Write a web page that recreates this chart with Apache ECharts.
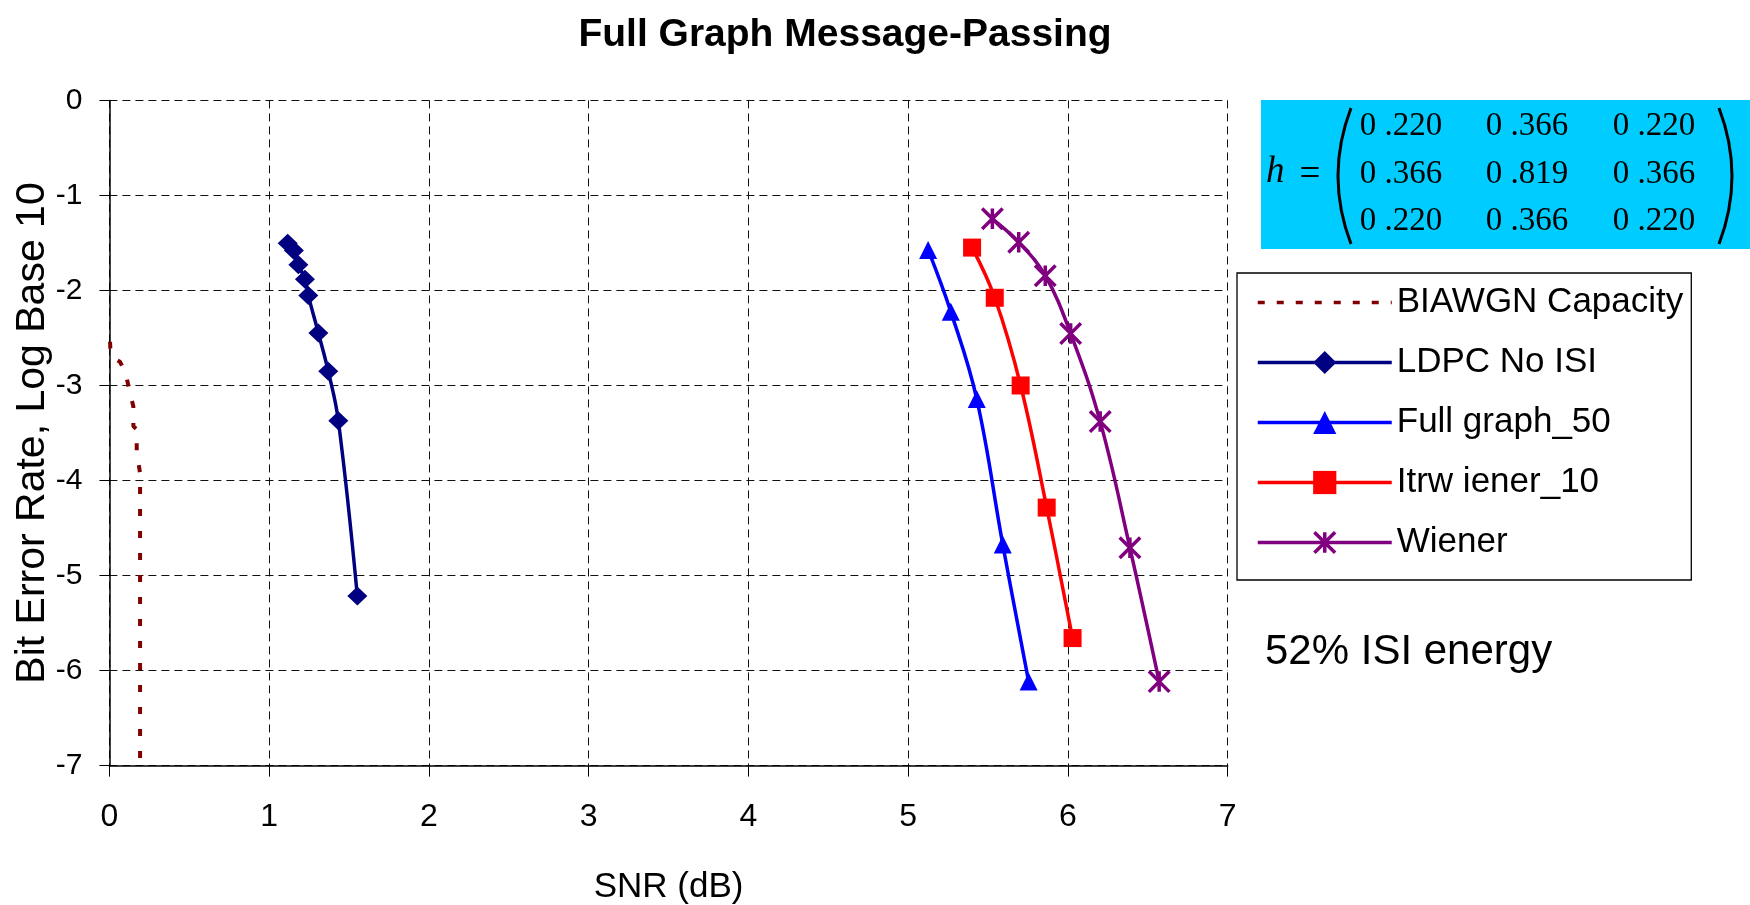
<!DOCTYPE html>
<html>
<head>
<meta charset="utf-8">
<title>Full Graph Message-Passing</title>
<script src="https://cdn.jsdelivr.net/npm/echarts@6/dist/echarts.min.js"></script>
<style>
  html, body { margin: 0; padding: 0; background: #fff; }
  #chart { width: 1750px; height: 905px; }
</style>
</head>
<body>
<div id="chart"></div>
<script>
// Axis ticks (SNR in dB, log10 of bit error rate)
const snrTicks = [0, 1, 2, 3, 4, 5, 6, 7];
const berTicks = [0, -1, -2, -3, -4, -5, -6, -7];

// Series names as shown in the legend
const seriesNames = ['BIAWGN Capacity', 'LDPC No ISI', 'Full graph_50', 'Itrw iener_10', 'Wiener'];

// [SNR (dB), log10 BER]
const biawgnCapacity = [
  [0.004, -2.54], [0.006, -2.61], [0.035, -2.64], [0.045, -2.73], [0.066, -2.75],
  [0.087, -2.82], [0.108, -2.92], [0.129, -3.08], [0.150, -3.22], [0.150, -3.43],
  [0.171, -3.46], [0.171, -3.73], [0.181, -3.81], [0.192, -3.92], [0.192, -7.00]
];
const ldpcNoIsi = [
  [1.116, -1.502], [1.155, -1.580], [1.183, -1.730], [1.224, -1.881], [1.245, -2.052],
  [1.308, -2.448], [1.370, -2.851], [1.433, -3.370], [1.552, -5.216]
];
const fullGraph50 = [
  [5.125, -1.574], [5.267, -2.225], [5.429, -3.141], [5.592, -4.673], [5.754, -6.116]
];
const itrWiener10 = [
  [5.400, -1.549], [5.542, -2.077], [5.704, -3.000], [5.867, -4.285], [6.029, -5.658]
];
const wiener = [
  [5.527, -1.246], [5.692, -1.493], [5.858, -1.845], [6.017, -2.454],
  [6.202, -3.380], [6.388, -4.708], [6.571, -6.116]
];

// Channel response matrix printed in the inset
const hMatrix = [
  ['0 .220', '0 .366', '0 .220'],
  ['0 .366', '0 .819', '0 .366'],
  ['0 .220', '0 .366', '0 .220']
];
const isiNote = '52% ISI energy';

const SANS = '"Liberation Sans", Arial, Helvetica, sans-serif';
const SERIF = '"Liberation Serif", "Times New Roman", serif';

// six-arm asterisk marker (vertical bar plus an X)
const STAR = 'path://M-1.7,-10L1.7,-10L1.7,10L-1.7,10Z' +
  'M-8.8,-11.2L11.2,8.8L8.8,11.2L-11.2,-8.8Z' +
  'M-11.2,8.8L8.8,-11.2L11.2,-8.8L-8.8,11.2Z';

const chart = echarts.init(document.getElementById('chart'), null, { renderer: 'canvas' });

// matrix inset graphics
const matrixCols = [1401, 1527, 1654];
const matrixRows = [126, 174, 221];
const matrixTexts = [];
hMatrix.forEach((row, r) => {
  row.forEach((cell, c) => {
    matrixTexts.push({
      type: 'text', z: 10,
      style: {
        text: cell, x: matrixCols[c], y: matrixRows[r],
        font: '33px ' + SERIF, fill: '#000',
        textAlign: 'center', textVerticalAlign: 'middle'
      }
    });
  });
});

const legendLine = { width: 3.5 };

const option = {
  backgroundColor: '#fff',
  animation: false,
  title: {
    text: 'Full Graph Message-Passing',
    left: 840, top: 11, textAlign: 'center',
    textStyle: { fontFamily: SANS, fontWeight: 'bold', fontSize: 39, color: '#000' }
  },
  grid: {
    left: 109.4, right: 522.3, top: 100.4, bottom: 139.4,
    containLabel: false, outerBoundsMode: 'none'
  },
  xAxis: {
    type: 'value',
    min: Math.min(...snrTicks), max: Math.max(...snrTicks), interval: snrTicks[1] - snrTicks[0],
    name: 'SNR (dB)', nameLocation: 'middle', nameGap: 104,
    nameTextStyle: { fontFamily: SANS, fontSize: 35, color: '#000' },
    axisLine: { show: true, onZero: false, lineStyle: { color: '#000', width: 1.5 } },
    axisTick: { show: true, length: 11, lineStyle: { color: '#000', width: 1 } },
    axisLabel: { fontFamily: SANS, fontSize: 32, color: '#000', margin: 36 },
    splitLine: { show: true, lineStyle: { color: '#111', width: 1, type: [8, 5] } }
  },
  yAxis: {
    type: 'value',
    min: Math.min(...berTicks), max: Math.max(...berTicks), interval: berTicks[0] - berTicks[1],
    name: 'Bit Error Rate, Log Base 10', nameLocation: 'middle', nameGap: 56, nameRotate: 90,
    nameMoveOverlap: false,
    nameTextStyle: { fontFamily: SANS, fontSize: 41, color: '#000' },
    axisLine: { show: true, onZero: false, lineStyle: { color: '#000', width: 1.5 } },
    axisTick: { show: true, length: 10, lineStyle: { color: '#000', width: 1 } },
    axisLabel: { fontFamily: SANS, fontSize: 30, color: '#000', margin: 27 },
    splitLine: { show: true, lineStyle: { color: '#111', width: 1, type: [8, 5] } }
  },
  legend: {
    orient: 'vertical', left: 1237, top: 273,
    padding: [12, 8, 20, 19], itemGap: 25,
    itemWidth: 134, itemHeight: 29,
    borderColor: '#000', borderWidth: 1.3, backgroundColor: '#fff',
    selectedMode: false,
    textStyle: { fontFamily: SANS, fontSize: 35, color: '#000' },
    data: [
      { name: seriesNames[0], itemStyle: { color: 'rgba(0,0,0,0)', borderWidth: 0 },
        lineStyle: { width: 3.5, type: [7, 12] } },
      { name: seriesNames[1], lineStyle: legendLine },
      { name: seriesNames[2], lineStyle: legendLine },
      { name: seriesNames[3], lineStyle: legendLine },
      { name: seriesNames[4], lineStyle: legendLine }
    ]
  },
  series: [
    {
      name: seriesNames[0], type: 'line', data: biawgnCapacity,
      showSymbol: false, symbol: 'none', smooth: false,
      lineStyle: { color: '#800000', width: 4, type: [7, 15] },
      itemStyle: { color: '#800000' }, z: 2
    },
    {
      name: seriesNames[1], type: 'line', data: ldpcNoIsi, smooth: 0.4,
      symbol: 'diamond', symbolSize: [20, 19],
      lineStyle: { color: '#000080', width: 3.5 },
      itemStyle: { color: '#000080' }, z: 3
    },
    {
      name: seriesNames[2], type: 'line', data: fullGraph50, smooth: 0.4,
      symbol: 'triangle', symbolSize: [18, 18],
      lineStyle: { color: '#0000FF', width: 3.5 },
      itemStyle: { color: '#0000FF' }, z: 3
    },
    {
      name: seriesNames[3], type: 'line', data: itrWiener10, smooth: 0.4,
      symbol: 'rect', symbolSize: 18,
      lineStyle: { color: '#FF0000', width: 3.5 },
      itemStyle: { color: '#FF0000' }, z: 3
    },
    {
      name: seriesNames[4], type: 'line', data: wiener, smooth: 0.4,
      symbol: STAR, symbolSize: 23,
      lineStyle: { color: '#800080', width: 3.5 },
      itemStyle: { color: '#800080' }, z: 3
    }
  ],
  graphic: [
    {
      type: 'rect', z: 5,
      shape: { x: 1261, y: 100, width: 489, height: 149 },
      style: { fill: '#00CCFF' }
    },
    {
      type: 'text', z: 10,
      style: { text: 'h', x: 1266, y: 172, font: 'italic 37px ' + SERIF, fill: '#000',
        textAlign: 'left', textVerticalAlign: 'middle' }
    },
    {
      type: 'text', z: 10,
      style: { text: '=', x: 1310, y: 175, font: '37px ' + SERIF, fill: '#000',
        textAlign: 'center', textVerticalAlign: 'middle' }
    },
    {
      type: 'bezierCurve', z: 10,
      shape: { x1: 1351, y1: 108, x2: 1351, y2: 244, cpx1: 1325, cpy1: 176 },
      style: { stroke: '#000', lineWidth: 3, fill: null }
    },
    {
      type: 'bezierCurve', z: 10,
      shape: { x1: 1719, y1: 108, x2: 1719, y2: 244, cpx1: 1745, cpy1: 176 },
      style: { stroke: '#000', lineWidth: 3, fill: null }
    },
    ...matrixTexts,
    {
      type: 'text', z: 10,
      style: { text: isiNote, x: 1265, y: 652, font: '42px ' + SANS, fill: '#000',
        textAlign: 'left', textVerticalAlign: 'middle' }
    }
  ]
};

chart.setOption(option);
</script>
</body>
</html>
